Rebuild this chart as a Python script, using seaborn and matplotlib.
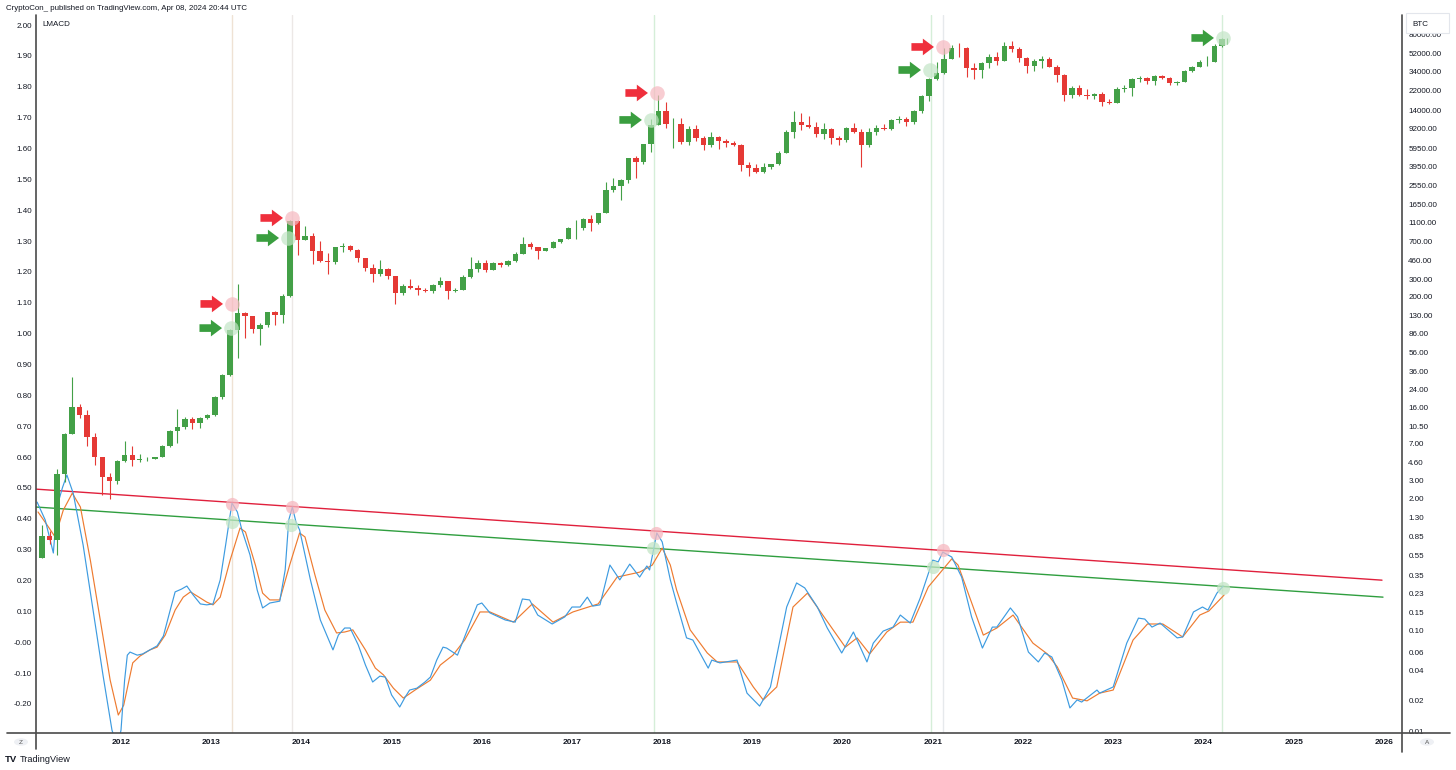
import numpy as np
import pandas as pd
import matplotlib
matplotlib.use("Agg")
import matplotlib.pyplot as plt
import seaborn as sns
from matplotlib.lines import Line2D
from matplotlib.patches import Circle, Rectangle
from matplotlib.ticker import NullLocator

sns.set_theme(style="white")
plt.rcParams['font.family'] = ['Liberation Sans', 'DejaVu Sans']

# ---------------- DATA ----------------
# Monthly BTC candles, Feb 2011 .. Apr 2024 (open = previous close)
btc_first_open = 0.52
btc_close = [
    0.86, 0.78, 3.50, 8.74, 16.1, 13.4, 8.2, 5.14, 3.25, 2.97, 4.72,
    5.48, 4.86, 4.90, 4.95, 5.17, 6.69, 9.35, 10.16, 12.4, 11.2, 12.56, 13.45,
    20.4, 33.4, 93, 139, 129, 97, 106, 141, 133, 204, 1128, 732,
    800, 570, 457, 445, 627, 640, 585, 480, 386, 338, 378, 320,
    218, 254, 244, 236, 230, 263, 285, 230, 236, 312, 377, 430,
    368, 437, 416, 448, 531, 673, 624, 574, 608, 700, 745, 964,
    965, 1190, 1080, 1350, 2300, 2480, 2870, 4730, 4340, 6470, 10000, 13900,
    10200, 10300, 6900, 9240, 7500, 6390, 7730, 7030, 6630, 6320, 4020, 3740,
    3460, 3830, 4100, 5320, 8570, 10800, 10080, 9600, 8290, 9150, 7540, 7190,
    9350, 8540, 6410, 8620, 9450, 9140, 11350, 11650, 10780, 13800, 19700, 29000,
    33100, 45200, 58800, 57700, 37300, 35000, 41500, 47100, 43800, 61300, 57000, 46200,
    38500, 43200, 45500, 37700, 31800, 19900, 23300, 20050, 19400, 20500, 17150, 16550,
    23100, 23150, 28500, 29250, 27200, 30500, 29250, 25950, 26950, 34650, 37700, 42300,
    42600, 61200, 71300, 71700,
]
btc_high = [
    1.10, 0.95, 3.90, 8.90, 31.9, 17.5, 15.0, 8.9, 5.2, 3.6, 4.8,
    7.38, 6.7, 5.5, 5.2, 5.2, 6.8, 9.6, 15.4, 12.9, 12.9, 12.8, 13.9,
    21, 34, 95, 266, 140, 130, 111, 141, 146, 215, 1163, 1150,
    1000, 850, 720, 545, 630, 680, 650, 600, 490, 420, 460, 385,
    320, 265, 300, 260, 245, 265, 315, 285, 245, 330, 500, 465,
    460, 440, 440, 465, 550, 780, 700, 625, 615, 720, 750, 980,
    1150, 1200, 1290, 1360, 2760, 2990, 2920, 4750, 4980, 6500, 11500, 19800,
    17200, 11800, 11700, 9750, 9990, 7750, 8500, 7760, 7400, 7000, 6570, 4300,
    4100, 4200, 4150, 5600, 9000, 13900, 13200, 12300, 10900, 10500, 9500, 7750,
    9550, 10500, 9200, 9470, 10070, 10380, 11450, 12480, 12050, 14100, 19900, 29300,
    41950, 58350, 61800, 64900, 59500, 41300, 42400, 50500, 52900, 67000, 69000, 59100,
    47900, 45800, 48200, 47400, 40000, 31900, 24700, 25200, 22800, 21000, 21500, 18400,
    23900, 25250, 29200, 31000, 29800, 31400, 31800, 30200, 27500, 35200, 38400, 44700,
    48900, 64000, 73800, 72700,
]
btc_low = [
    0.52, 0.72, 0.56, 2.90, 8.7, 12.5, 6.7, 4.3, 2.2, 2.0, 2.8,
    4.6, 4.2, 4.6, 4.7, 4.9, 5.2, 6.5, 7.1, 9.8, 9.9, 10.0, 12.2,
    13.2, 19.5, 33, 50, 79, 88, 66, 101, 105, 110, 197, 520,
    730, 420, 440, 340, 420, 550, 570, 440, 360, 280, 320, 300,
    170, 210, 240, 210, 225, 218, 253, 190, 225, 236, 310, 350,
    355, 365, 395, 405, 440, 530, 600, 470, 565, 605, 680, 740,
    750, 920, 890, 1060, 1340, 2200, 1840, 2660, 2980, 4110, 5500, 10000,
    9400, 6000, 6600, 6450, 7050, 5750, 6070, 5880, 6100, 6200, 3550, 3150,
    3400, 3360, 3700, 4080, 5300, 7450, 9070, 9400, 7700, 7300, 6500, 6400,
    6850, 8450, 3850, 6150, 8100, 8900, 8920, 10600, 9900, 10400, 13200, 17600,
    28150, 32300, 45000, 47000, 30000, 28800, 29300, 37300, 39600, 43300, 53300, 42000,
    32900, 34300, 37200, 37600, 26700, 17600, 18800, 19600, 18150, 18200, 15500, 16300,
    16500, 21400, 19550, 26900, 25800, 24800, 28900, 25200, 24900, 26550, 34100, 37600,
    38500, 41900, 59300, 64500,
]
btc_start_year, btc_start_month = 2011, 2
btc_last_date = 2024.265

lmacd_t = [2011.07, 2011.16, 2011.25, 2011.29, 2011.35, 2011.40, 2011.47, 2011.58, 2011.69, 2011.80,
           2011.90, 2011.96, 2012.00, 2012.04, 2012.07, 2012.10, 2012.18, 2012.24, 2012.32, 2012.40,
           2012.47, 2012.54, 2012.60, 2012.67, 2012.73, 2012.80, 2012.88, 2012.95, 2013.02, 2013.10,
           2013.16, 2013.23, 2013.29, 2013.34, 2013.43, 2013.51, 2013.57, 2013.65, 2013.76, 2013.82,
           2013.86, 2013.90, 2013.94, 2013.98, 2014.10, 2014.21, 2014.35, 2014.41, 2014.48, 2014.54,
           2014.63, 2014.71, 2014.79, 2014.87, 2014.93, 2015.00, 2015.09, 2015.15, 2015.20, 2015.28,
           2015.37, 2015.43, 2015.50, 2015.57, 2015.61, 2015.73, 2015.84, 2015.95, 2016.00, 2016.09,
           2016.26, 2016.37, 2016.45, 2016.53, 2016.62, 2016.78, 2016.92, 2017.00, 2017.09, 2017.17,
           2017.23, 2017.31, 2017.42, 2017.53, 2017.64, 2017.75, 2017.83, 2017.86, 2017.94, 2018.00,
           2018.09, 2018.16, 2018.27, 2018.34, 2018.51, 2018.55, 2018.64, 2018.83, 2018.94, 2019.08,
           2019.20, 2019.38, 2019.49, 2019.58, 2019.72, 2019.83, 2019.99, 2020.12, 2020.27, 2020.34,
           2020.45, 2020.56, 2020.64, 2020.75, 2020.86, 2021.00, 2021.06, 2021.11, 2021.21, 2021.32,
           2021.43, 2021.55, 2021.66, 2021.71, 2021.86, 2021.94, 2022.06, 2022.17, 2022.24, 2022.32,
           2022.43, 2022.52, 2022.60, 2022.65, 2022.82, 2022.85, 2023.00, 2023.15, 2023.28, 2023.35,
           2023.43, 2023.52, 2023.71, 2023.77, 2023.89, 2023.99, 2024.05, 2024.15, 2024.22]
lmacd_v = [0.454, 0.396, 0.289, 0.438, 0.500, 0.542, 0.483, 0.315, 0.104, -0.106,
           -0.285, -0.340, -0.285, -0.123, -0.042, -0.032, -0.042, -0.038, -0.025, -0.012,
           0.020, 0.098, 0.163, 0.172, 0.182, 0.153, 0.124, 0.121, 0.124, 0.202,
           0.315, 0.451, 0.422, 0.364, 0.283, 0.169, 0.111, 0.127, 0.133, 0.234,
           0.396, 0.438, 0.389, 0.364, 0.202, 0.072, -0.025, 0.023, 0.046, 0.046,
           -0.009, -0.074, -0.129, -0.110, -0.113, -0.171, -0.210, -0.178, -0.155, -0.149,
           -0.129, -0.113, -0.058, -0.016, -0.019, -0.042, 0.040, 0.121, 0.127, 0.095,
           0.072, 0.065, 0.140, 0.137, 0.088, 0.059, 0.082, 0.114, 0.114, 0.146,
           0.117, 0.121, 0.250, 0.202, 0.253, 0.211, 0.247, 0.234, 0.354, 0.325,
           0.202, 0.127, 0.014, 0.007, -0.084, -0.058, -0.067, -0.058, -0.165, -0.207,
           -0.145, 0.114, 0.192, 0.176, 0.114, 0.046, -0.035, 0.033, -0.064, -0.003,
           0.036, 0.049, 0.088, 0.062, 0.143, 0.266, 0.260, 0.292, 0.276, 0.211,
           0.082, -0.019, 0.049, 0.049, 0.111, 0.082, -0.032, -0.064, -0.035, -0.048,
           -0.122, -0.213, -0.187, -0.194, -0.155, -0.165, -0.145, -0.003, 0.078, 0.075,
           0.049, 0.062, 0.014, 0.017, 0.098, 0.114, 0.104, 0.159, 0.182]

signal_t = [2011.08, 2011.18, 2011.27, 2011.36, 2011.46, 2011.55, 2011.66, 2011.77, 2011.88, 2011.97,
            2012.03, 2012.13, 2012.21, 2012.32, 2012.40, 2012.49, 2012.60, 2012.69, 2012.77, 2012.88,
            2012.95, 2013.02, 2013.10, 2013.21, 2013.32, 2013.38, 2013.49, 2013.57, 2013.65, 2013.76,
            2013.87, 2013.98, 2014.04, 2014.15, 2014.26, 2014.39, 2014.48, 2014.57, 2014.71, 2014.82,
            2014.91, 2015.02, 2015.13, 2015.26, 2015.43, 2015.54, 2015.68, 2015.81, 2015.98, 2016.09,
            2016.35, 2016.56, 2016.79, 2017.01, 2017.29, 2017.50, 2017.75, 2017.89, 2018.00, 2018.09,
            2018.16, 2018.31, 2018.50, 2018.61, 2018.83, 2019.01, 2019.12, 2019.27, 2019.45, 2019.61,
            2019.78, 2020.03, 2020.16, 2020.30, 2020.49, 2020.64, 2020.78, 2020.95, 2021.21, 2021.28,
            2021.56, 2021.71, 2021.89, 2022.11, 2022.27, 2022.38, 2022.55, 2022.71, 2022.85, 2023.00,
            2023.22, 2023.38, 2023.55, 2023.77, 2023.96, 2024.06, 2024.23]
signal_v = [0.422, 0.380, 0.341, 0.428, 0.483, 0.438, 0.266, 0.072, -0.123, -0.236,
            -0.204, -0.067, -0.045, -0.025, -0.016, 0.023, 0.104, 0.146, 0.163, 0.143,
            0.130, 0.121, 0.146, 0.266, 0.370, 0.357, 0.250, 0.159, 0.137, 0.137,
            0.250, 0.354, 0.341, 0.218, 0.104, 0.030, 0.033, 0.040, -0.025, -0.084,
            -0.106, -0.149, -0.181, -0.155, -0.123, -0.074, -0.042, 0.007, 0.098, 0.098,
            0.065, 0.124, 0.065, 0.098, 0.124, 0.211, 0.227, 0.250, 0.305, 0.250,
            0.169, 0.040, -0.035, -0.064, -0.064, -0.145, -0.187, -0.145, 0.114, 0.159,
            0.088, -0.016, 0.014, -0.038, 0.033, 0.065, 0.065, 0.179, 0.270, 0.250,
            0.023, 0.046, 0.088, -0.003, -0.038, -0.080, -0.181, -0.190, -0.165, -0.155,
            0.007, 0.059, 0.059, 0.017, 0.088, 0.101, 0.153]

# trend lines on the LMACD pane (start/end date, value)
red_line_t = [2011.058, 2025.980]
red_line_v = [0.496, 0.201]
green_line_t = [2011.058, 2025.991]
green_line_v = [0.438, 0.146]

# highlighted dates (vertical lines)
vline_dates = [2013.231, 2013.896, 2017.909, 2020.980, 2021.113, 2024.206]
vline_colors = ['#efe2d4', '#ece8e6', '#d5eed8', '#d5eed8', '#e6e9ec', '#d5eed8']

# marker circles on LMACD pane
lm_pink_t = [2013.231, 2013.896, 2017.931, 2021.113]
lm_pink_v = [0.448, 0.438, 0.354, 0.299]
lm_green_t = [2013.231, 2013.885, 2017.898, 2021.002, 2024.217]
lm_green_v = [0.389, 0.380, 0.305, 0.244, 0.176]

# marker circles + arrows on price pane
px_pink_t = [2013.231, 2013.896, 2017.942, 2021.113]
px_pink_p = [170, 1208, 20900, 59700]
px_green_t = [2013.220, 2013.852, 2017.875, 2020.969, 2024.217]
px_green_p = [98, 765, 11300, 35300, 73300]

left_ticks = [2.0, 1.9, 1.8, 1.7, 1.6, 1.5, 1.4, 1.3, 1.2, 1.1, 1.0, 0.9, 0.8, 0.7, 0.6,
              0.5, 0.4, 0.3, 0.2, 0.1, 0.0, -0.1, -0.2]
right_ticks = [80000, 52000, 34000, 22000, 14000, 9200, 5950, 3950, 2550, 1650, 1100, 700,
               460, 300, 200, 130, 86, 56, 36, 24, 16, 10.5, 7, 4.6, 3, 2, 1.3, 0.85,
               0.55, 0.35, 0.23, 0.15, 0.10, 0.06, 0.04, 0.02, 0.01]
year_ticks = list(range(2012, 2027))

# ---------------- BUILD TABLES ----------------
n = len(btc_close)
assert len(btc_high) == n and len(btc_low) == n
dates = []
for i in range(n):
    m0 = btc_start_month - 1 + i
    y = btc_start_year + m0 // 12
    mm = m0 % 12
    dates.append(y + (mm + 0.5) / 12.0)
dates[-1] = btc_last_date
opens = [btc_first_open] + btc_close[:-1]
candles = pd.DataFrame({'t': dates, 'open': opens, 'high': btc_high,
                        'low': btc_low, 'close': btc_close})
candles['up'] = candles['close'] >= candles['open']

lm = pd.DataFrame({'t': lmacd_t, 'v': lmacd_v})
sg = pd.DataFrame({'t': signal_t, 'v': signal_v})

# ---------------- FIGURE ----------------
W, H = 1456, 770
fig = plt.figure(figsize=(W / 100, H / 100), dpi=100)
fig.patch.set_facecolor('white')

def fx(x):
    return x / W

def fy(y):
    return 1 - y / H

top_px, bot_px, left_px, right_px = 15, 733, 36, 1402
ax = fig.add_axes([fx(left_px), fy(bot_px), (right_px - left_px) / W, (bot_px - top_px) / H])
ax2 = ax.twinx()

UP, DOWN = '#43a047', '#e53935'
BLUE, ORANGE = '#3d9be0', '#ee7b30'

# vertical highlight lines
for d, c in zip(vline_dates, vline_colors):
    ax.axvline(d, color=c, lw=1.0, zorder=0)

# trend lines
ax.plot(red_line_t, red_line_v, color='#e0203c', lw=1.0, zorder=3)
ax.plot(green_line_t, green_line_v, color='#2f9e3f', lw=1.0, zorder=3)

# LMACD lines
sns.lineplot(data=sg, x='t', y='v', ax=ax, color=ORANGE, lw=0.85, sort=False, legend=False, zorder=4)
sns.lineplot(data=lm, x='t', y='v', ax=ax, color=BLUE, lw=0.85, sort=False, legend=False, zorder=5)

# circles LMACD pane
ax.scatter(lm_pink_t, lm_pink_v, s=90, color='#f6b8c0', alpha=0.75, lw=0, zorder=6)
ax.scatter(lm_green_t, lm_green_v, s=90, color='#c3e5c6', alpha=0.75, lw=0, zorder=6)

# candles
cols = np.where(candles['up'], UP, DOWN)
ax2.vlines(candles['t'], candles['low'], candles['high'], colors=cols, lw=0.8, zorder=3)
body_lo = np.minimum(candles['open'], candles['close'])
body_hi = np.maximum(candles['open'], candles['close'])
ax2.bar(candles['t'], body_hi - body_lo, bottom=body_lo, width=0.72 / 12, color=cols,
        lw=0, zorder=4)

# circles + arrows on price pane
ax2.scatter(px_pink_t, px_pink_p, s=110, color='#f6b8c0', alpha=0.7, lw=0, zorder=6)
ax2.scatter(px_green_t, px_green_p, s=110, color='#c3e5c6', alpha=0.7, lw=0, zorder=6)
arrow_gap, arrow_len = 0.10, 0.25
for t, p in zip(px_pink_t, px_pink_p):
    ax2.annotate('', xy=(t - arrow_gap, p), xytext=(t - arrow_gap - arrow_len, p),
                 arrowprops=dict(arrowstyle='simple,head_length=0.8,head_width=1.2,tail_width=0.55',
                                 color='#ef2f3c', lw=0, shrinkA=0, shrinkB=0, mutation_scale=10),
                 zorder=7)
for t, p in zip(px_green_t, px_green_p):
    ax2.annotate('', xy=(t - arrow_gap, p), xytext=(t - arrow_gap - arrow_len, p),
                 arrowprops=dict(arrowstyle='simple,head_length=0.8,head_width=1.2,tail_width=0.55',
                                 color='#3a9e3f', lw=0, shrinkA=0, shrinkB=0, mutation_scale=10),
                 zorder=7)

# ---------------- AXES ----------------
def t_of(x):
    return 2012 + (x - 121) / 90.2

def v_of(y):
    return 2.0 - (y - 25) / 308.6

def lp_of(y):
    return (731 - y) / 100.95 - 2

ax.set_xlim(t_of(left_px), t_of(right_px))
ax.set_ylim(v_of(bot_px), v_of(top_px))
ax2.set_yscale('log')
ax2.set_ylim(10 ** lp_of(bot_px), 10 ** lp_of(top_px))

ax.set_yticks(left_ticks)
ax.set_yticklabels(['-0.00' if abs(v) < 1e-9 else f'{v:.2f}' for v in left_ticks])
ax2.set_yticks(right_ticks)
ax2.set_yticklabels([f'{v:.2f}' for v in right_ticks])
ax2.yaxis.set_minor_locator(NullLocator())
ax.set_xticks(year_ticks)
ax.set_xticklabels([str(y) for y in year_ticks])
for lbl in ax.get_xticklabels():
    lbl.set_fontweight('bold')

ax.tick_params(axis='y', length=0, pad=3, labelsize=5.8, labelcolor='#131722')
ax2.tick_params(axis='y', length=0, pad=4.5, labelsize=5.8, labelcolor='#131722')
ax.tick_params(axis='x', length=0, pad=4.5, labelsize=6.0, labelcolor='#131722')
ax.set_xlabel('')
ax.set_ylabel('')
ax2.set_ylabel('')
for a in (ax, ax2):
    a.grid(False)
    for s in a.spines.values():
        s.set_visible(False)

# frame lines
AXC = '#4a4a4a'
fig.add_artist(Line2D([fx(left_px), fx(left_px)], [fy(top_px), fy(749)], color=AXC, lw=1.2))
fig.add_artist(Line2D([fx(right_px), fx(right_px)], [fy(top_px), fy(752)], color=AXC, lw=1.2))
fig.add_artist(Line2D([fx(7), fx(1450)], [fy(bot_px), fy(bot_px)], color=AXC, lw=1.2))

# texts
fig.text(fx(6), fy(8), 'CryptoCon_ published on TradingView.com, Apr 08, 2024 20:44 UTC',
         fontsize=5.7, va='center', ha='left', color='#131722')
fig.text(fx(42), fy(25), 'LMACD', fontsize=5.8, va='center', ha='left', color='#131722')
fig.add_artist(Rectangle((fx(1406), fy(33)), (1449 - 1406) / W, 20 / H, transform=fig.transFigure,
                         facecolor='white', edgecolor='#e3e6ec', lw=0.8, zorder=10))
fig.text(fx(1412), fy(24), 'BTC', fontsize=5.8, va='center', ha='left', color='#131722', zorder=11)

for (cx, letter) in [(21, 'Z'), (1427, 'A')]:
    fig.add_artist(Circle((fx(cx), fy(742)), 7 / W, transform=fig.transFigure,
                          facecolor='#eef0f4', edgecolor='none', zorder=10))
    fig.text(fx(cx), fy(742), letter, fontsize=4.6, ha='center', va='center', color='#555555', zorder=11)

fig.text(fx(5), fy(760), 'TV', fontsize=6.8, fontweight='heavy', va='center', ha='left', color='#131722')
fig.text(fx(20), fy(760), 'TradingView', fontsize=6.6, va='center', ha='left', color='#131722')

fig.savefig('out.png', dpi=100, facecolor='white')
